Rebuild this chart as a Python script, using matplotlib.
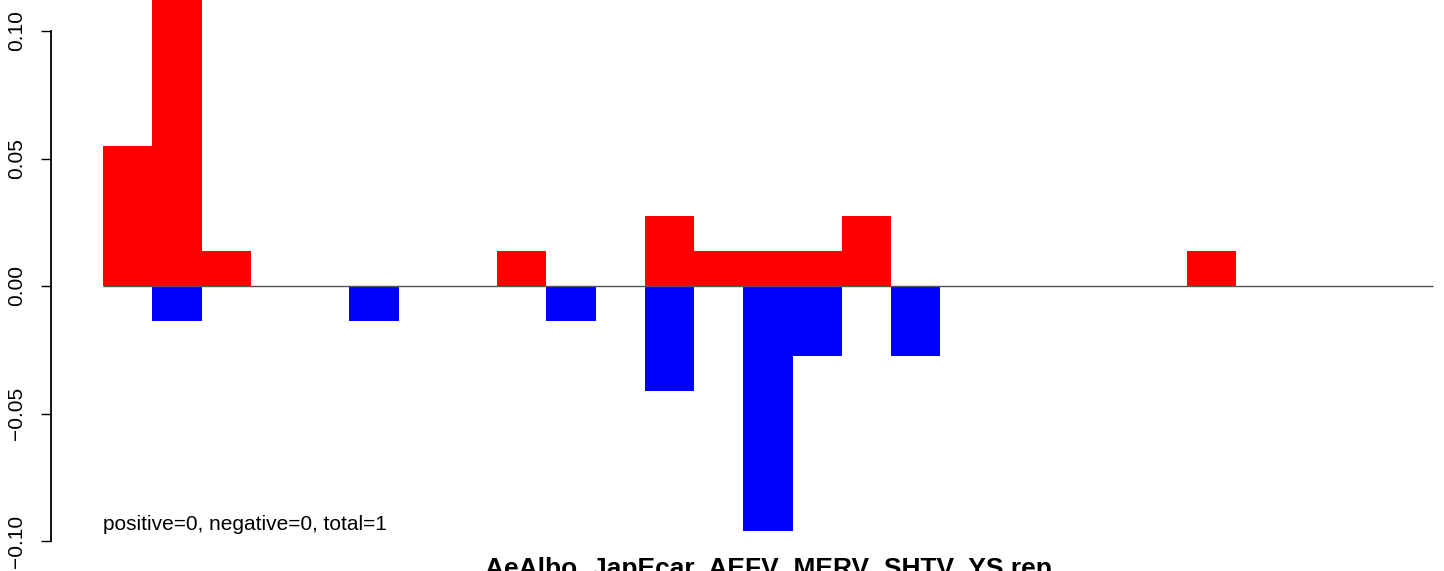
import matplotlib
matplotlib.use("Agg")
import matplotlib.pyplot as plt
import numpy as np

plt.rcParams['font.family'] = ['Liberation Sans', 'DejaVu Sans']

n_bins = 27
unit = 1 / 73
# counts per bin (in units of 1/73)
red_bins = [0, 1, 2, 8, 11, 12, 13, 14, 15, 22]
red_counts = [4, 9, 1, 1, 2, 1, 1, 1, 2, 1]
blue_bins = [1, 5, 9, 11, 13, 14, 16]
blue_counts = [1, 1, 1, 3, 7, 2, 2]
yticks = [-0.10, -0.05, 0.00, 0.05, 0.10]
ytick_labels = ["\u22120.10", "\u22120.05", "0.00", "0.05", "0.10"]
xlabel = "AeAlbo  JapEcar  AEFV  MERV  SHTV  YS rep"
note = "positive=0, negative=0, total=1"

W, H = 1444, 571
fig = plt.figure(figsize=(W / 100, H / 100), dpi=100)
ax = fig.add_axes([51 / W, 0, 1 - 51 / W, 1])

px_per_bin = (1433 - 103) / n_bins
x0 = (51 - 103) / px_per_bin
x1 = (W - 103) / px_per_bin
ax.set_xlim(x0, x1)
ax.set_ylim(-(H - 286) / 2550, 286 / 2550)

red_vals = np.array(red_counts) * unit
blue_vals = -np.array(blue_counts) * unit
ax.bar(red_bins, red_vals, width=1.0, align='edge', color='#ff0000', linewidth=0)
ax.bar(blue_bins, blue_vals, width=1.0, align='edge', color='#0000ff', linewidth=0)
ax.hlines(0, 0, n_bins, color='#555555', linewidth=1.0)

for s in ['top', 'right', 'bottom']:
    ax.spines[s].set_visible(False)
ax.spines['left'].set_bounds(-0.10, 0.10)
ax.spines['left'].set_linewidth(1.3)
ax.set_xticks([])
ax.set_yticks(yticks)
ax.set_yticklabels(ytick_labels, rotation=90, va='center', fontsize=15)
ax.tick_params(axis='y', length=7.2, width=1.0, pad=11)

ax.text(0, -(525 - 286) / 2550, note, fontsize=15, va='center', ha='left')
fig.text((483 + 1053) / 2 / W, (H - 557) / H, xlabel, ha='center', va='top',
         fontsize=19, fontweight='bold')

fig.savefig("out.png", dpi=100)
